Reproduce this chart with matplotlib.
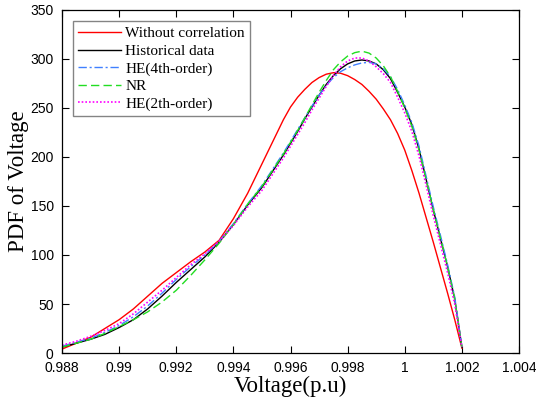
import matplotlib
matplotlib.use("Agg")
import matplotlib.pyplot as plt

voltage = [0.988, 0.9885, 0.989, 0.9895, 0.990, 0.9905, 0.991, 0.9915, 0.992, 0.9925,
           0.993, 0.9935, 0.994, 0.9945, 0.995, 0.9955, 0.99575, 0.996, 0.99625, 0.9965,
           0.99675, 0.997, 0.99725, 0.9975, 0.99775, 0.998, 0.99825, 0.9985, 0.99875,
           0.999, 0.99925, 0.9995, 0.99975, 1.0, 1.00025, 1.0005, 1.00075, 1.001,
           1.00125, 1.0015, 1.00175, 1.002]

without_corr = [4, 10, 16, 25, 34, 45, 58, 71, 82, 93,
                103, 115, 137, 163, 193, 223, 238, 251, 261, 269,
                276, 281, 284.5, 286, 285.5, 283, 279, 274, 267,
                259, 249, 238, 224, 207, 186, 163, 138, 113,
                87, 61, 34, 5]
historical = [6, 10, 14, 19, 26, 34, 45, 58, 72, 85,
              98, 113, 131, 151, 169, 191, 202, 214, 226, 239,
              251, 263, 274, 283, 290, 295, 298, 299, 298,
              295, 289, 280, 266, 251, 233, 208, 177, 146,
              117, 88, 55, 6]
he4 = [7, 11, 15, 21, 28, 37, 48, 61, 75, 88,
       100, 114, 132, 152, 171, 193, 204, 216, 228, 240,
       252, 263, 273, 281, 287, 291, 294, 296, 296.5,
       295, 290, 282, 269, 253, 235, 211, 180, 149,
       120, 90, 57, 6]
nr = [6, 10, 14, 20, 27, 34, 42, 52, 64, 79,
      95, 112, 131, 152, 170, 192, 203, 215, 227, 240,
      253, 266, 278, 289, 297, 303, 306.5, 308, 306,
      301, 293, 282, 267, 250, 231, 207, 177, 146,
      117, 88, 55, 6]
he2 = [8, 12, 17, 23, 30, 40, 52, 64, 77, 90,
       101, 114, 130, 149, 166, 188, 199, 211, 223, 235,
       248, 260, 272, 283, 292, 298, 301, 301, 298,
       292, 285, 276, 261, 245, 226, 201, 171, 140,
       111, 82, 50, 6]

labels = ["Without correlation", "Historical data", "HE(4th-order)", "NR", "HE(2th-order)"]
xticks = [0.988, 0.99, 0.992, 0.994, 0.996, 0.998, 1.0, 1.002, 1.004]
xtick_labels = ["0.988", "0.99", "0.992", "0.994", "0.996", "0.998", "1", "1.002", "1.004"]
yticks = [0, 50, 100, 150, 200, 250, 300, 350]

fig = plt.figure(figsize=(5.36, 4.08), dpi=100)
ax = fig.add_axes([0.1157, 0.1348, 0.9683 - 0.1157, 0.9755 - 0.1348])

ax.plot(voltage, without_corr, color="#ff0000", lw=1.0, ls="-", label=labels[0])
ax.plot(voltage, historical, color="#000000", lw=1.0, ls="-", label=labels[1])
ax.plot(voltage, he4, color="#4080ff", lw=1.0, ls=(0, (6, 2, 1.5, 2)), label=labels[2])
ax.plot(voltage, nr, color="#22dd22", lw=1.0, ls=(0, (6, 3)), label=labels[3])
ax.plot(voltage, he2, color="#ff00ff", lw=1.2, ls=(0, (1, 1.2)), label=labels[4])

ax.set_xlim(0.988, 1.004)
ax.set_ylim(0, 350)
ax.set_xticks(xticks)
ax.set_xticklabels(xtick_labels)
ax.set_yticks(yticks)
ax.tick_params(direction="in", top=True, right=True, length=5, width=0.8,
               labelsize=10, pad=6)
for lab in ax.get_xticklabels() + ax.get_yticklabels():
    lab.set_fontfamily("Liberation Sans")
for s in ax.spines.values():
    s.set_linewidth(0.9)

ax.set_xlabel("Voltage(p.u)", fontfamily="Liberation Serif", fontsize=16.5, labelpad=0)
ax.set_ylabel("PDF of Voltage", fontfamily="Liberation Serif", fontsize=16.5, labelpad=1)

leg = ax.legend(loc="upper left", bbox_to_anchor=(0.023, 0.967),
                prop={"family": "Liberation Serif", "size": 11},
                frameon=True, fancybox=False, edgecolor="#666666",
                handlelength=2.8, handletextpad=0.3, labelspacing=0.25,
                borderpad=0.35, borderaxespad=0.0)
leg.get_frame().set_linewidth(1.0)

fig.savefig("out.png", dpi=100)
